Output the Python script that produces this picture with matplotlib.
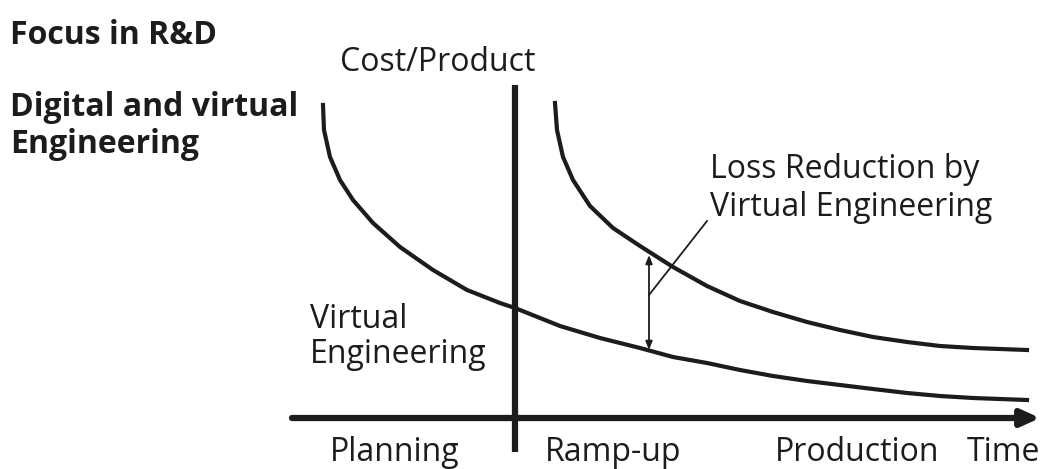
import matplotlib.pyplot as plt

# points (x = time, y = cost, pixel-like units)
virtual_x = [323, 324, 330, 340, 353, 373, 400, 433, 467, 500, 515, 560, 600,
             640, 673, 707, 740, 773, 807, 840, 873, 907, 940, 973, 1027]
virtual_y = [364, 339, 312, 289, 269, 246, 222, 199, 179, 166, 161, 143, 131,
             121, 112, 106, 99, 93, 88, 84, 80, 76, 73, 71, 69]
real_x = [555, 557, 563, 573, 590, 613, 640, 673, 707, 740, 773, 807, 840,
          873, 907, 940, 973, 1027]
real_y = [366, 339, 312, 289, 263, 241, 223, 202, 183, 168, 157, 147, 139,
          132, 127, 123, 121, 119]

phases = ['Planning', 'Ramp-up', 'Production']
phase_x = [395, 613, 857]

ink = '#1c1c1c'
plt.rcParams['font.family'] = ['Open Sans', 'DejaVu Sans']

fig = plt.figure(figsize=(10.46, 4.69), dpi=100)
ax = fig.add_axes([0, 0, 1, 1])
ax.set_xlim(0, 1046)
ax.set_ylim(0, 469)
ax.axis('off')

# axes of the diagram
ax.annotate('', xy=(1040, 51), xytext=(292, 51),
            arrowprops=dict(arrowstyle='-|>,head_length=1.1,head_width=0.5',
                            color=ink, lw=4.5, shrinkA=0, shrinkB=0))
ax.plot([515, 515], [17, 384], color=ink, lw=4.5, solid_capstyle='butt')

ax.plot(virtual_x, virtual_y, color=ink, lw=3, solid_joinstyle='round')
ax.plot(real_x, real_y, color=ink, lw=3, solid_joinstyle='round')

# loss reduction marker
ax.annotate('', xy=(649, 214), xytext=(649, 119),
            arrowprops=dict(arrowstyle='<|-|>,head_length=0.5,head_width=0.2',
                            color=ink, lw=1.3, shrinkA=0, shrinkB=0))
ax.plot([649, 707], [174, 248], color=ink, lw=1.3)

fs = 23
ax.text(340, 407, 'Cost/Product', fontsize=fs, color=ink, va='center')
ax.text(710, 281, 'Loss Reduction by\nVirtual Engineering', fontsize=fs,
        color=ink, va='center', linespacing=1.2)
ax.text(310, 132, 'Virtual\nEngineering', fontsize=fs, color=ink,
        va='center', linespacing=1.1)
for name, x in zip(phases, phase_x):
    ax.text(x, 17, name, fontsize=fs, color=ink, ha='center', va='center')
ax.text(1003, 17, 'Time', fontsize=fs, color=ink, ha='center', va='center')

ax.text(10, 434, 'Focus in R&D', fontsize=23, fontweight='bold', color=ink, va='center')
ax.text(10, 343, 'Digital and virtual\nEngineering', fontsize=23, fontweight='bold',
        color=ink, va='center', linespacing=1.18)

fig.savefig('out.png', dpi=100, facecolor='white')
